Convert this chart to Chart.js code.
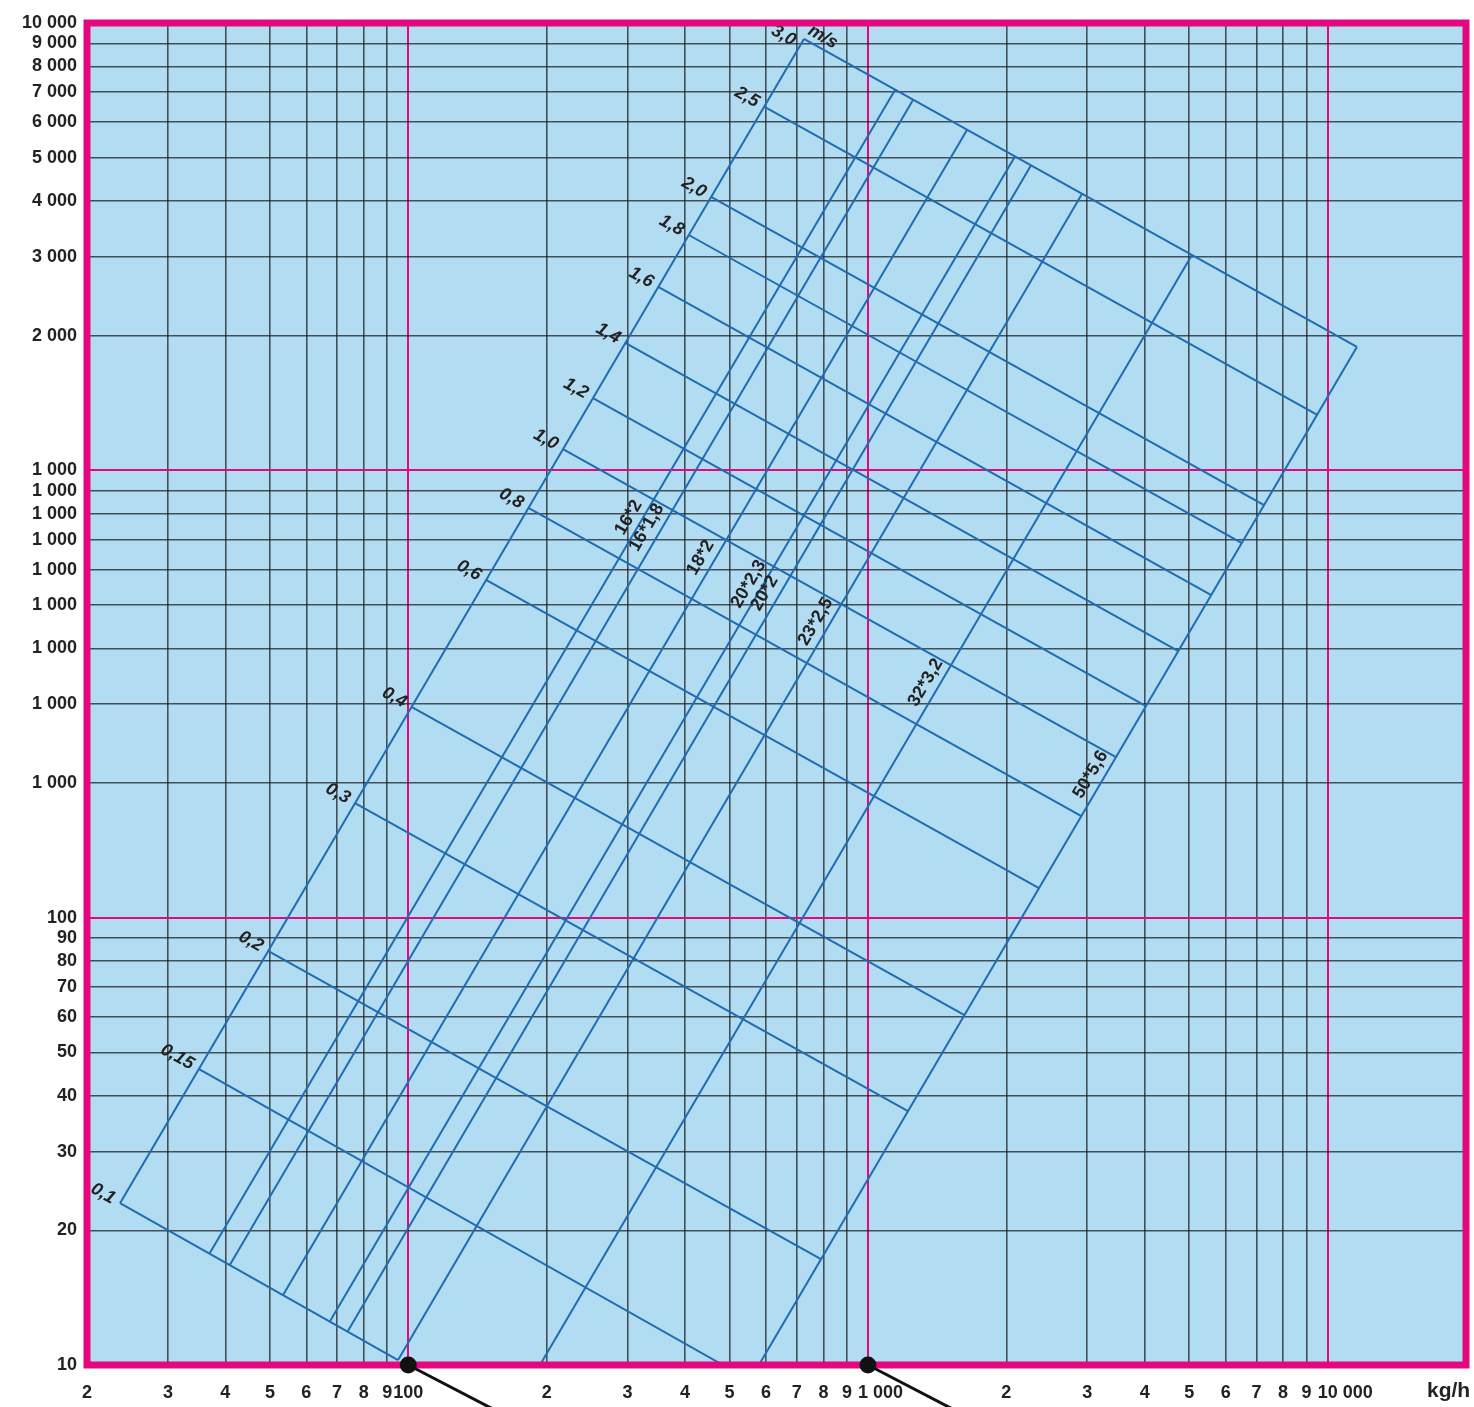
<!DOCTYPE html>
<html lang="de">
<head>
    <meta charset="UTF-8">
    <title>Nomogramm kg/h</title>
    <script src="https://cdn.jsdelivr.net/npm/chart.js"></script>
    <style>
        body { margin: 0; background: #fff; }
        #wrap { width: 1474px; height: 1407px; }
    </style>
</head>
<body>
    <div id="wrap">
        <canvas id="nomogramm" width="1474" height="1407"></canvas>
    </div>

    <script>
        // Achsen (Ticks und Beschriftungen wie im Original)
        const xTicks = [20, 30, 40, 50, 60, 70, 80, 90, 100, 200, 300, 400, 500, 600, 700, 800, 900,
                        1000, 2000, 3000, 4000, 5000, 6000, 7000, 8000, 9000, 10000, 20000];
        const xTickLabels = ['2', '3', '4', '5', '6', '7', '8', '9', '100', '2', '3', '4', '5', '6', '7', '8', '9',
                             '1 000', '2', '3', '4', '5', '6', '7', '8', '9', '10 000', ''];
        const yTicks = [10, 20, 30, 40, 50, 60, 70, 80, 90, 100, 200, 300, 400, 500, 600, 700, 800, 900,
                        1000, 2000, 3000, 4000, 5000, 6000, 7000, 8000, 9000, 10000];
        const yTickLabels = ['10', '20', '30', '40', '50', '60', '70', '80', '90', '100',
                             '1 000', '1 000', '1 000', '1 000', '1 000', '1 000', '1 000', '1 000',
                             '1 000', '2 000', '3 000', '4 000', '5 000', '6 000', '7 000', '8 000', '9 000', '10 000'];
        const xMajor = [100, 1000, 10000];
        const yMajor = [100, 1000];

        // Rohrlinien (erste = linker Rand ohne Beschriftung)
        const pipeLabels  = ['', '16*2', '16*1,8', '18*2', '20*2,3', '20*2', '23*2,5', '32*3,2', '50*5,6'];
        const pipeBottomX = [23.6, 37.0, 40.9, 53.4, 67.6, 73.9, 95.0, 193.4, 579];
        const pipeBottomY = [23.0, 17.8, 16.73, 14.34, 12.54, 11.91, 10.26, 10, 10];
        const pipeTopX    = [725.7, 1145, 1253, 1642, 2088, 2262, 2921, 5067, 11580];
        const pipeTopY    = [9210, 7084, 6729, 5765, 5030, 4802, 4148, 3030, 1887];

        // Geschwindigkeitslinien m/s
        const velLabels = ['3,0', '2,5', '2,0', '1,8', '1,6', '1,4', '1,2', '1,0', '0,8', '0,6', '0,4', '0,3', '0,2', '0,15', '0,1'];
        const velStartX = [725.7, 594.5, 455.7, 407.5, 349.8, 296.5, 252.2, 217.0, 182.5, 147.6, 101.6, 76.56, 49.52, 34.99, 23.6];
        const velStartY = [9210, 6500, 4084, 3358, 2570, 1926, 1451, 1116, 823.8, 568.7, 295.8, 180.4, 84.24, 45.89, 23.0];
        const velEndX   = [11580, 9496, 7275, 6509, 5584, 4734, 4025, 3463, 2913, 2355, 1622, 1222, 790.2, 483.7, 95.0];
        const velEndY   = [1887, 1331, 835.7, 687.6, 526.1, 394.2, 297.0, 228.4, 168.7, 116.4, 60.53, 36.95, 17.24, 10, 10.26];

        // Markierungen unten
        const markerX = [100, 1000];

        const MAGENTA = '#e4087e';
        const BLUE = '#1f6cb2';
        const GRID = 'rgba(25, 25, 25, 0.72)';
        const TEXT = '#222';
        const FONT = "'Liberation Sans', Arial, sans-serif";

        Chart.defaults.font.family = FONT;

        const datasets = [];
        pipeLabels.forEach((_, i) => {
            datasets.push({
                data: [{ x: pipeBottomX[i], y: pipeBottomY[i] }, { x: pipeTopX[i], y: pipeTopY[i] }],
                borderColor: BLUE, borderWidth: 2, pointRadius: 0, showLine: true
            });
        });
        velLabels.forEach((_, i) => {
            datasets.push({
                data: [{ x: velStartX[i], y: velStartY[i] }, { x: velEndX[i], y: velEndY[i] }],
                borderColor: BLUE, borderWidth: 2, pointRadius: 0, showLine: true
            });
        });

        const nomogramPlugin = {
            id: 'nomogram',
            beforeDraw(chart) {
                const { ctx, chartArea: a } = chart;
                ctx.save();
                ctx.fillStyle = '#b1dcf2';
                ctx.fillRect(a.left, a.top, a.right - a.left, a.bottom - a.top);
                ctx.restore();
            },
            afterDatasetsDraw(chart) {
                const { ctx, scales: { x, y } } = chart;
                ctx.save();
                ctx.fillStyle = TEXT;

                // Rohrbeschriftungen
                const ax = x.getPixelForValue(pipeBottomX[0]), ay = y.getPixelForValue(pipeBottomY[0]);
                const bx = x.getPixelForValue(pipeTopX[0]), by = y.getPixelForValue(pipeTopY[0]);
                const ang = Math.atan2(by - ay, bx - ax);
                ctx.font = 'bold 18px ' + FONT;
                ctx.textAlign = 'center';
                ctx.textBaseline = 'middle';
                pipeLabels.forEach((lab, i) => {
                    if (!lab) return;
                    const tx = x.getPixelForValue(pipeTopX[i]) + 0.373 * (ax - bx);
                    const ty = y.getPixelForValue(pipeTopY[i]) + 0.373 * (ay - by);
                    ctx.save();
                    ctx.translate(tx, ty);
                    ctx.rotate(ang);
                    ctx.fillText(lab, 0, -13);
                    ctx.restore();
                });

                // Geschwindigkeitsbeschriftungen
                ctx.font = 'italic bold 18px ' + FONT;
                velLabels.forEach((lab, i) => {
                    const sx = x.getPixelForValue(velStartX[i]), sy = y.getPixelForValue(velStartY[i]);
                    const ex = x.getPixelForValue(velEndX[i]), ey = y.getPixelForValue(velEndY[i]);
                    ctx.save();
                    ctx.translate(sx, sy);
                    ctx.rotate(Math.atan2(ey - sy, ex - sx));
                    ctx.textAlign = 'right';
                    ctx.fillText(lab, -7, i === 0 ? 7 : 0);
                    if (i === 0) {
                        ctx.textAlign = 'left';
                        ctx.fillText('m/s', 0, -11);
                    }
                    ctx.restore();
                });
                ctx.restore();
            },
            afterDraw(chart) {
                const { ctx, chartArea: a, scales: { x } } = chart;
                ctx.save();
                // Rahmen
                ctx.strokeStyle = MAGENTA;
                ctx.lineWidth = 7;
                ctx.strokeRect(a.left, a.top, a.right - a.left, a.bottom - a.top);

                // x-Beschriftung (lange Zahlen beginnen kurz vor der Linie, wie im Original)
                ctx.fillStyle = TEXT;
                ctx.font = 'bold 18px ' + FONT;
                ctx.textBaseline = 'middle';
                xTicks.forEach((v, i) => {
                    const lab = xTickLabels[i];
                    if (!lab) return;
                    const px = x.getPixelForValue(v);
                    if (lab.length > 3) {
                        ctx.textAlign = 'left';
                        ctx.fillText(lab, px - 10, a.bottom + 28);
                    } else {
                        ctx.textAlign = 'center';
                        ctx.fillText(lab, px, a.bottom + 28);
                    }
                });

                // Punkte mit Hinweislinien
                ctx.fillStyle = '#111';
                ctx.strokeStyle = '#111';
                ctx.lineWidth = 3;
                markerX.forEach(v => {
                    const px = x.getPixelForValue(v);
                    const endY = chart.height + 5;
                    ctx.beginPath();
                    ctx.moveTo(px, a.bottom);
                    ctx.lineTo(px + (endY - a.bottom) / 0.52, endY);
                    ctx.stroke();
                    ctx.beginPath();
                    ctx.arc(px, a.bottom, 8.5, 0, Math.PI * 2);
                    ctx.fill();
                });

                // Einheit
                ctx.fillStyle = TEXT;
                ctx.font = 'bold 21px ' + FONT;
                ctx.textAlign = 'left';
                ctx.textBaseline = 'alphabetic';
                ctx.fillText('kg/h', a.right - 39, a.bottom + 32);
                ctx.restore();
            }
        };

        const gridColor = (major) => (c) => (c.tick && major.includes(c.tick.value)) ? MAGENTA : GRID;
        const gridWidth = (major) => (c) => (c.tick && major.includes(c.tick.value)) ? 2 : 1.6;

        new Chart(document.getElementById('nomogramm'), {
            type: 'scatter',
            data: { datasets },
            options: {
                responsive: false,
                animation: false,
                events: [],
                layout: { padding: { top: 23, right: 8, left: 0, bottom: 0 } },
                plugins: { legend: { display: false }, tooltip: { enabled: false } },
                scales: {
                    x: {
                        type: 'logarithmic',
                        min: 20, max: 20000,
                        afterBuildTicks: s => { s.ticks = xTicks.map(v => ({ value: v })); },
                        afterFit: s => { s.height = 42; s.paddingLeft = 0; s.paddingRight = 0; },
                        border: { display: false },
                        grid: { color: gridColor(xMajor), lineWidth: gridWidth(xMajor), drawTicks: false },
                        ticks: { display: false, autoSkip: false }
                    },
                    y: {
                        type: 'logarithmic',
                        min: 10, max: 10000,
                        afterBuildTicks: s => { s.ticks = yTicks.map(v => ({ value: v })); },
                        afterFit: s => { s.width = 87; s.paddingTop = 0; s.paddingBottom = 0; },
                        border: { display: false },
                        grid: { color: gridColor(yMajor), lineWidth: gridWidth(yMajor), drawTicks: false },
                        ticks: {
                            autoSkip: false, padding: 10,
                            color: TEXT, font: { size: 18, weight: 'bold' },
                            callback: (v, i) => yTickLabels[i]
                        }
                    }
                }
            },
            plugins: [nomogramPlugin]
        });
    </script>
</body>
</html>
